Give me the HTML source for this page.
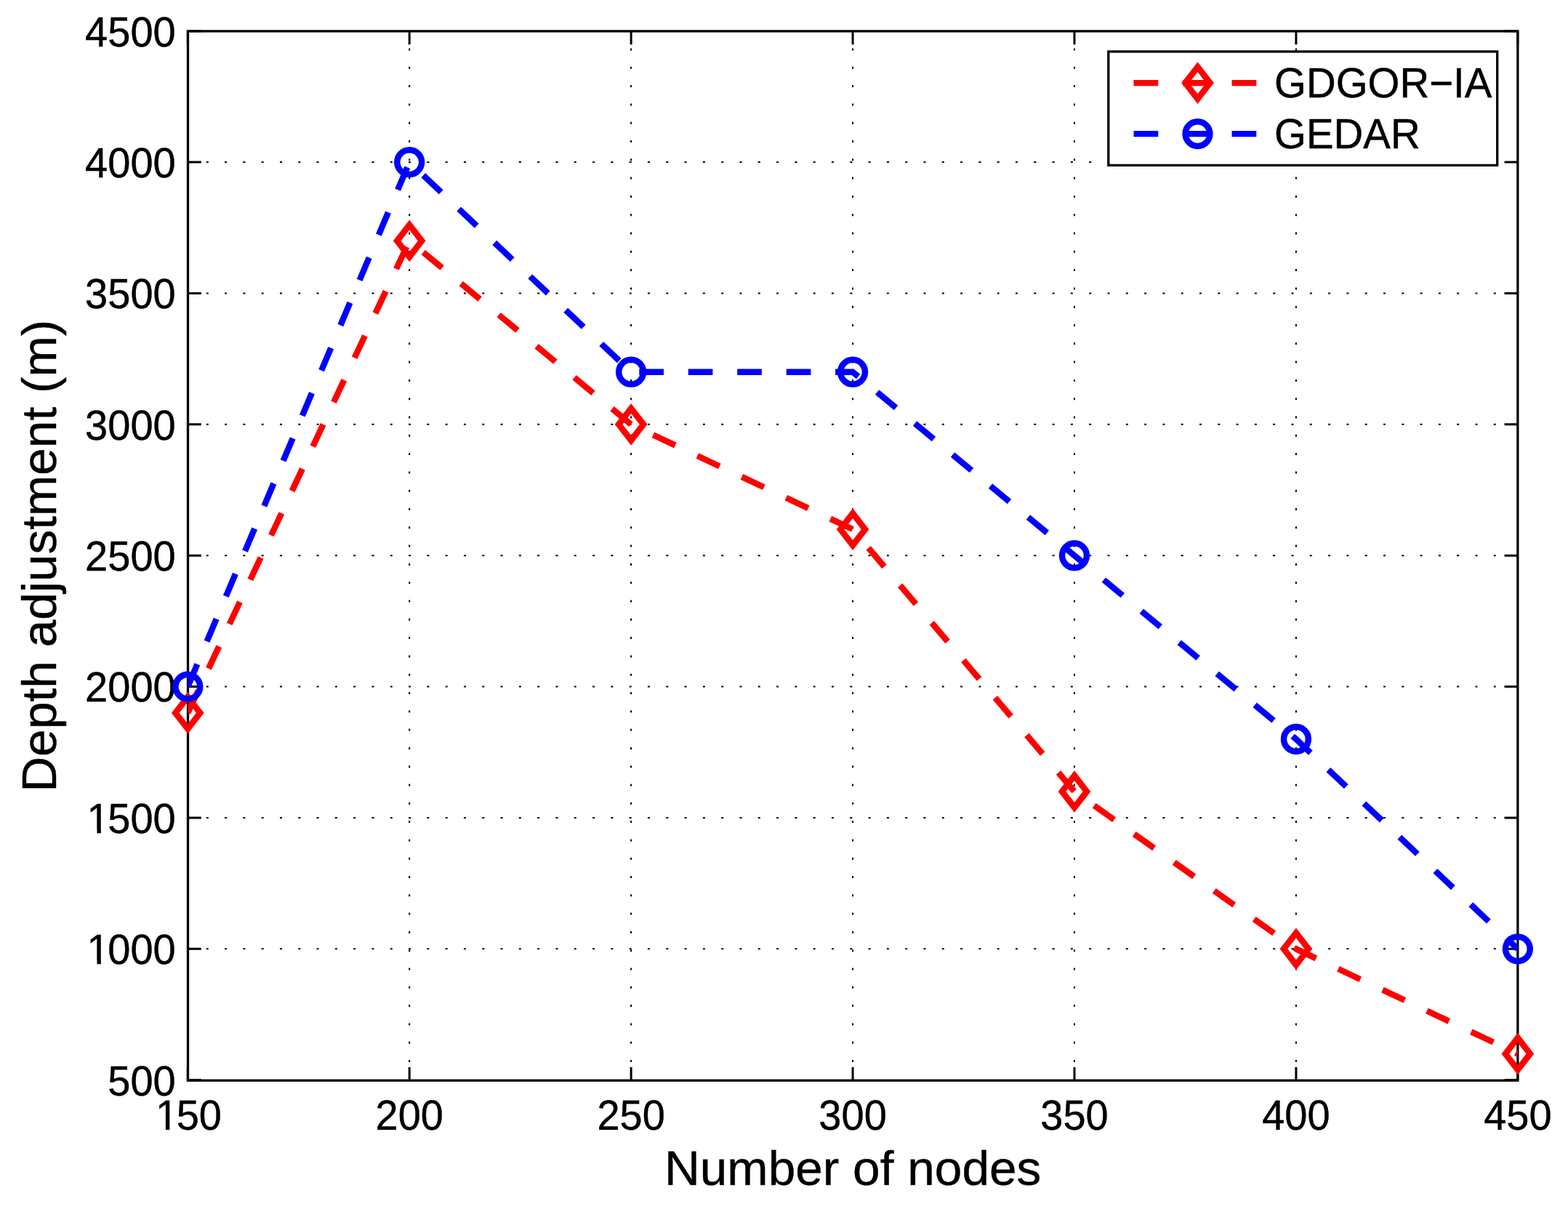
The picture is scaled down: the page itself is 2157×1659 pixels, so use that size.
<!DOCTYPE html><html><head><meta charset="utf-8"><title>Depth adjustment vs Number of nodes</title><style>html,body{margin:0;padding:0;background:#fff;overflow:hidden;width:2157px;height:1659px;}svg{display:block;}text{font-family:"Liberation Sans",Arial,Helvetica,sans-serif;font-kerning:none;fill:#000;stroke:#000;stroke-width:0.45px;}</style></head><body>
<svg width="2157" height="1659" viewBox="0 0 2157 1659">
<rect x="0" y="0" width="2157" height="1659" fill="#fff"/>
<path d="M258.5 1305.35H2087.85M258.5 1124.97H2087.85M258.5 944.6H2087.85M258.5 764.23H2087.85M258.5 583.85H2087.85M258.5 403.48H2087.85M258.5 223.1H2087.85" stroke="#000" stroke-width="2" stroke-dasharray="3 22.3" fill="none"/>
<path d="M563.22 1486.3V42.9M868.15 1486.3V42.9M1173.08 1486.3V42.9M1478 1486.3V42.9M1782.92 1486.3V42.9" stroke="#000" stroke-width="2" stroke-dasharray="3 22.3" fill="none"/>
<path d="M258.5 1485.72h18.3M2087.85 1485.72h-18.3M258.5 1305.35h18.3M2087.85 1305.35h-18.3M258.5 1124.97h18.3M2087.85 1124.97h-18.3M258.5 944.6h18.3M2087.85 944.6h-18.3M258.5 764.23h18.3M2087.85 764.23h-18.3M258.5 583.85h18.3M2087.85 583.85h-18.3M258.5 403.48h18.3M2087.85 403.48h-18.3M258.5 223.1h18.3M2087.85 223.1h-18.3M258.5 42.72h18.3M2087.85 42.72h-18.3M258.3 42.9v18.3M258.3 1486.3v-18.3M563.22 42.9v18.3M563.22 1486.3v-18.3M868.15 42.9v18.3M868.15 1486.3v-18.3M1173.08 42.9v18.3M1173.08 1486.3v-18.3M1478 42.9v18.3M1478 1486.3v-18.3M1782.92 42.9v18.3M1782.92 1486.3v-18.3M2087.85 42.9v18.3M2087.85 1486.3v-18.3" stroke="#000" stroke-width="3.0" fill="none"/>
<rect x="258.5" y="42.9" width="1829.35" height="1443.4" stroke="#000" stroke-width="3.3" fill="none"/>
<g transform="translate(148.27 1506.9) scale(1 1.025)"><text font-size="56.0">500</text></g>
<g transform="translate(117.12 1325.5) scale(1 1.025)"><text font-size="56.0"><tspan dx="2.5">1</tspan><tspan dx="-2.5">000</tspan></text><rect x="5.17" y="-4.63" width="11.17" height="6.23" fill="#fff"/><rect x="21.78" y="-4.63" width="10.23" height="6.23" fill="#fff"/></g>
<g transform="translate(117.12 1145.8) scale(1 1.025)"><text font-size="56.0"><tspan dx="2.5">1</tspan><tspan dx="-2.5">500</tspan></text><rect x="5.17" y="-4.63" width="11.17" height="6.23" fill="#fff"/><rect x="21.78" y="-4.63" width="10.23" height="6.23" fill="#fff"/></g>
<g transform="translate(117.12 964.7) scale(1 1.025)"><text font-size="56.0">2000</text></g>
<g transform="translate(117.12 784.9) scale(1 1.025)"><text font-size="56.0">2500</text></g>
<g transform="translate(117.12 604.9) scale(1 1.025)"><text font-size="56.0">3000</text></g>
<g transform="translate(117.12 424) scale(1 1.025)"><text font-size="56.0">3500</text></g>
<g transform="translate(117.12 243.8) scale(1 1.025)"><text font-size="56.0">4000</text></g>
<g transform="translate(117.12 63.8) scale(1 1.025)"><text font-size="56.0">4500</text></g>
<g transform="translate(211.58 1553.7) scale(1 1.025)"><text font-size="56.0"><tspan dx="2.5">1</tspan><tspan dx="-2.5">50</tspan></text><rect x="5.17" y="-4.63" width="11.17" height="6.23" fill="#fff"/><rect x="21.78" y="-4.63" width="10.23" height="6.23" fill="#fff"/></g>
<g transform="translate(516.51 1553.7) scale(1 1.025)"><text font-size="56.0">200</text></g>
<g transform="translate(821.43 1553.7) scale(1 1.025)"><text font-size="56.0">250</text></g>
<g transform="translate(1126.36 1553.7) scale(1 1.025)"><text font-size="56.0">300</text></g>
<g transform="translate(1431.28 1553.7) scale(1 1.025)"><text font-size="56.0">350</text></g>
<g transform="translate(1736.21 1553.7) scale(1 1.025)"><text font-size="56.0">400</text></g>
<g transform="translate(2041.13 1553.7) scale(1 1.025)"><text font-size="56.0">450</text></g>
<text transform="translate(1173.17 1630) scale(1 0.98)" font-size="67.6" text-anchor="middle">Number of nodes</text>
<text transform="translate(76.8 764.6) rotate(-90) scale(1 0.98)" font-size="67.6" text-anchor="middle">Depth adjustment (m)</text>
<defs><clipPath id="ax"><rect x="258.5" y="42.9" width="1829.35" height="1443.4"/></clipPath></defs>
<polyline points="258.3,980.68 563.22,331.32 868.15,583.85 1173.08,728.15 1478,1088.9 1782.92,1305.35 2087.85,1449.65" stroke="#f00" stroke-width="8.4" stroke-dasharray="33.7 33.76" fill="none" stroke-linejoin="miter" clip-path="url(#ax)"/>
<path d="M258.3 958.73L275.3 980.68L258.3 1002.63L241.3 980.68Z" stroke="#f00" stroke-width="8.5" fill="none" stroke-miterlimit="10"/>
<path d="M563.22 309.38L580.22 331.32L563.22 353.27L546.22 331.32Z" stroke="#f00" stroke-width="8.5" fill="none" stroke-miterlimit="10"/>
<path d="M868.15 561.9L885.15 583.85L868.15 605.8L851.15 583.85Z" stroke="#f00" stroke-width="8.5" fill="none" stroke-miterlimit="10"/>
<path d="M1173.08 706.2L1190.08 728.15L1173.08 750.1L1156.08 728.15Z" stroke="#f00" stroke-width="8.5" fill="none" stroke-miterlimit="10"/>
<path d="M1478 1066.95L1495 1088.9L1478 1110.85L1461 1088.9Z" stroke="#f00" stroke-width="8.5" fill="none" stroke-miterlimit="10"/>
<path d="M1782.92 1283.4L1799.92 1305.35L1782.92 1327.3L1765.92 1305.35Z" stroke="#f00" stroke-width="8.5" fill="none" stroke-miterlimit="10"/>
<path d="M2087.85 1427.7L2104.85 1449.65L2087.85 1471.6L2070.85 1449.65Z" stroke="#f00" stroke-width="8.5" fill="none" stroke-miterlimit="10"/>
<polyline points="258.3,944.6 563.22,223.1 868.15,511.7 1173.08,511.7 1478,764.23 1782.92,1016.75 2087.85,1305.35" stroke="#00f" stroke-width="8.4" stroke-dasharray="33.7 33.76" fill="none" stroke-linejoin="miter" clip-path="url(#ax)"/>
<circle cx="258.3" cy="944.6" r="16.9" stroke="#00f" stroke-width="8.5" fill="none"/>
<circle cx="563.22" cy="223.1" r="16.9" stroke="#00f" stroke-width="8.5" fill="none"/>
<circle cx="868.15" cy="511.7" r="16.9" stroke="#00f" stroke-width="8.5" fill="none"/>
<circle cx="1173.08" cy="511.7" r="16.9" stroke="#00f" stroke-width="8.5" fill="none"/>
<circle cx="1478" cy="764.23" r="16.9" stroke="#00f" stroke-width="8.5" fill="none"/>
<circle cx="1782.92" cy="1016.75" r="16.9" stroke="#00f" stroke-width="8.5" fill="none"/>
<circle cx="2087.85" cy="1305.35" r="16.9" stroke="#00f" stroke-width="8.5" fill="none"/>
<rect x="1524.8" y="70.95" width="534.9" height="156.4" fill="#fff" stroke="#000" stroke-width="3.3"/>
<path d="M1559.5 114.1H1728.3" stroke="#f00" stroke-width="8.4" stroke-dasharray="33.76 33.76" fill="none"/>
<path d="M1647.5 92.15L1664.5 114.1L1647.5 136.05L1630.5 114.1Z" stroke="#f00" stroke-width="8.5" fill="none" stroke-miterlimit="10"/>
<text transform="translate(1753.1 134.0) scale(1 1.033)" font-size="56.4">GDGOR−IA</text>
<path d="M1559.5 184.1H1728.3" stroke="#00f" stroke-width="8.4" stroke-dasharray="33.76 33.76" fill="none"/>
<circle cx="1647.5" cy="184.1" r="16.9" stroke="#00f" stroke-width="8.5" fill="none"/>
<text transform="translate(1753.1 203.9) scale(1 1.033)" font-size="56.4">GEDAR</text>
</svg></body></html>
